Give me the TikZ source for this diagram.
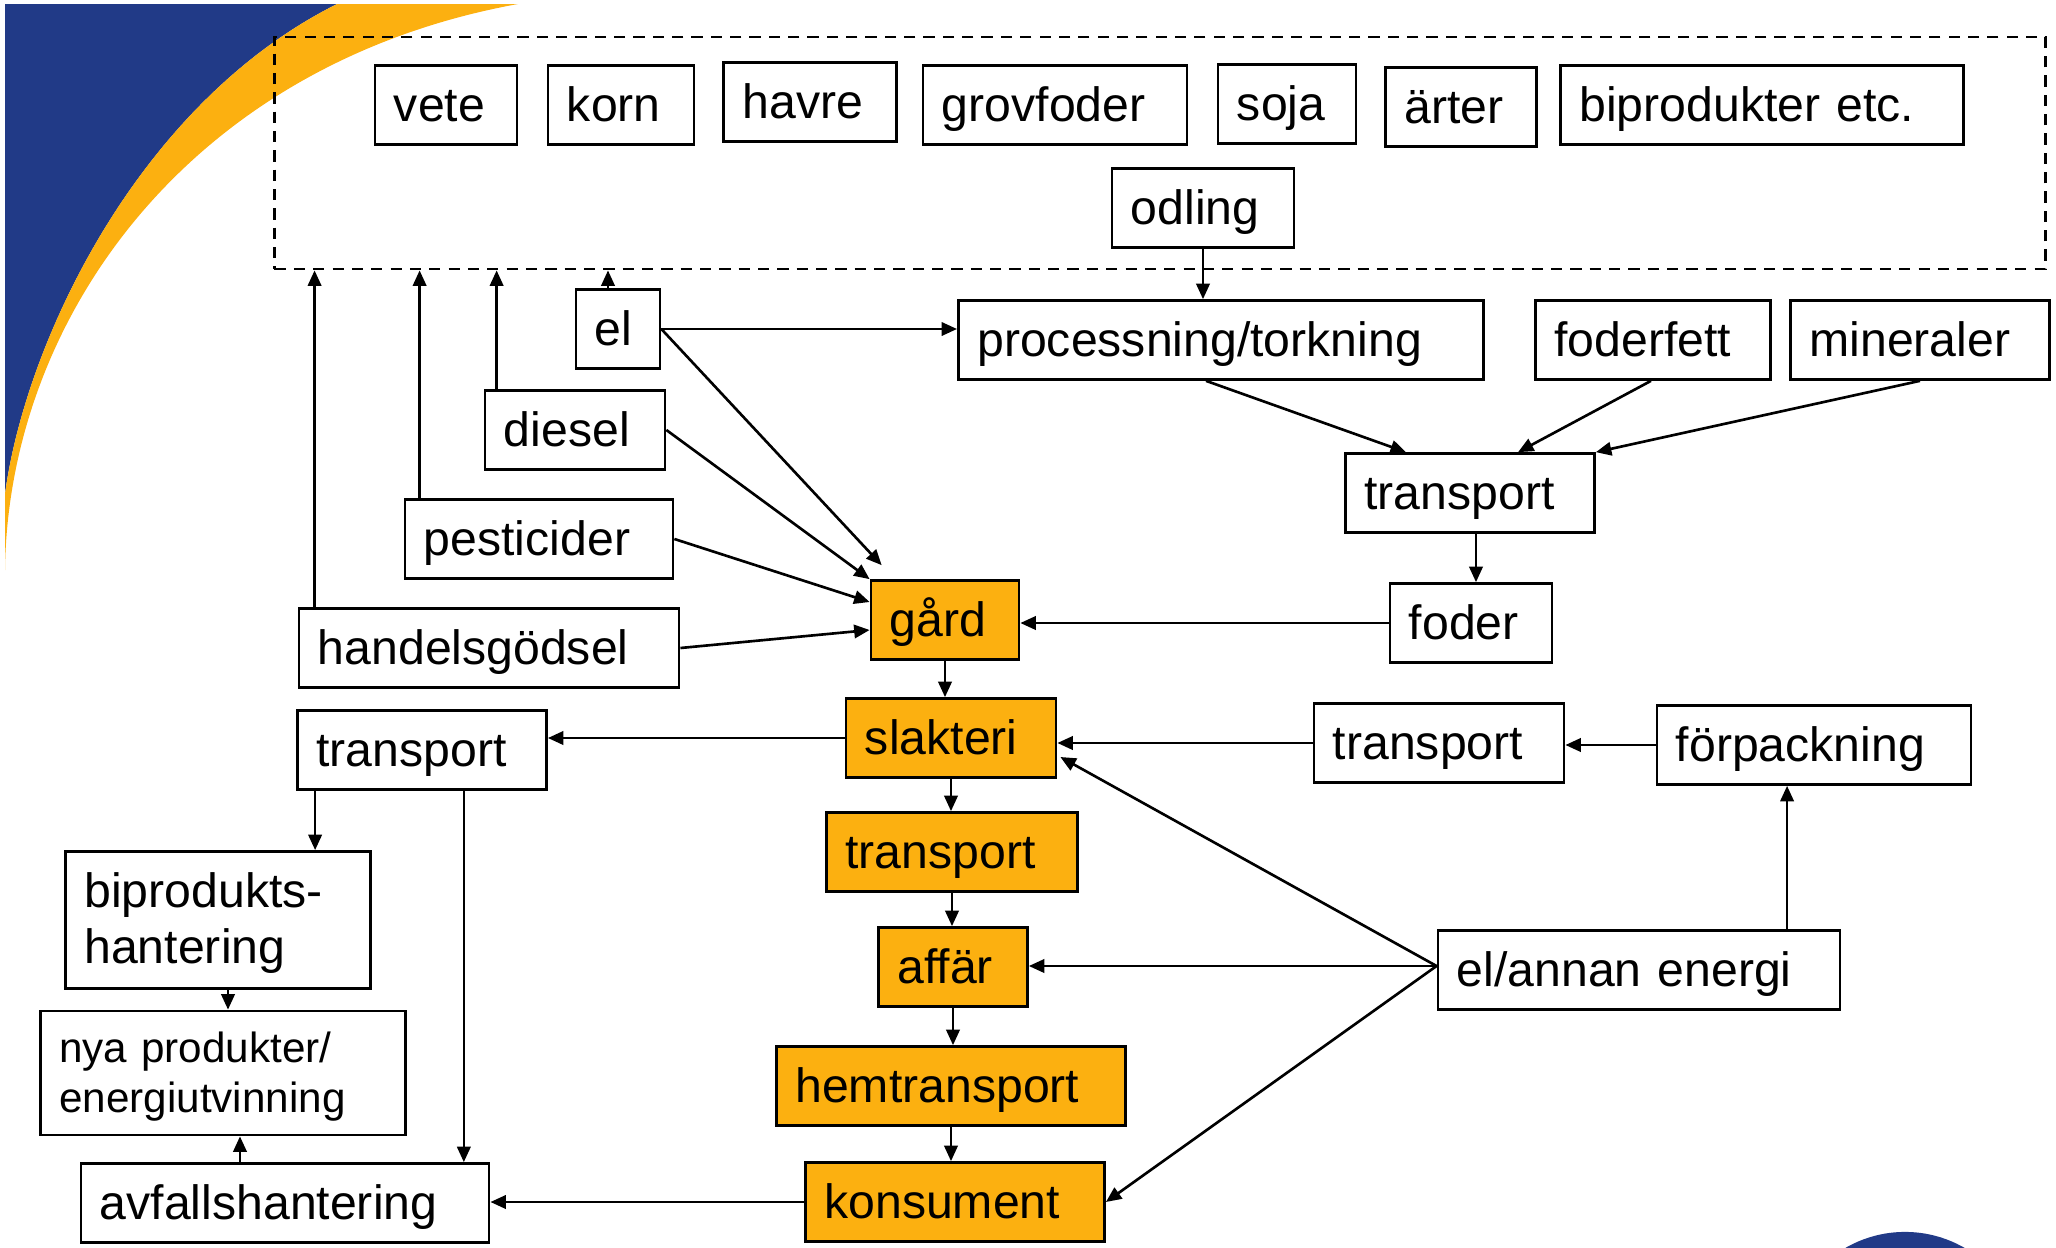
\documentclass[tikz,border=0pt]{standalone}
\usepackage{fontspec}
\setmainfont{Liberation Sans}
\usetikzlibrary{arrows.meta,calc}
\definecolor{tblue}{RGB}{33,58,135}
\definecolor{torange}{RGB}{252,176,16}
\begin{document}
\begin{tikzpicture}[x=0.01cm,y=-0.01cm,
  bx/.style={draw, line width=0.75pt, inner xsep=0.19cm, inner ysep=0pt, minimum height=0.79cm, align=left, text height=11.1pt, text depth=1.9pt, font=\fontsize{13.7}{16}\selectfont},
  bxtwo/.style={draw, line width=0.75pt, inner xsep=0.19cm, inner ysep=0pt, align=left, font=\fontsize{13.7}{16}\selectfont},
  obx/.style={bx, fill=torange},
  arr/.style={line width=0.75pt, -{Triangle[length=4.4pt,width=3.8pt]}},
]
\useasboundingbox (0,0) rectangle (2056,1248);
% background decoration
\fill[tblue] (5,4) -- (337,4) .. controls (137,104) and (25,344) .. (5,494) -- cycle;
\fill[torange] (337,4) -- (518,4) .. controls (188,64) and (8,320) .. (5,570) -- (5,494) .. controls (25,344) and (137,104) .. (337,4) -- cycle;
\begin{scope}
\clip (0,0) rectangle (2056,1248);
\fill[tblue] (1905,1351) circle [radius=1.19cm];
\end{scope}
% group box
\node[draw, dashed, dash pattern=on 3.2pt off 2.3pt, line width=0.75pt, minimum width=17.70cm, minimum height=2.32cm, inner sep=0pt] (grp) at (1160,153) {};
% nodes
\node[bx,text width=1.04cm] (vete) at (446,105) {vete};
\node[bx,text width=1.08cm] (korn) at (621,105) {korn};
\node[bx,text width=1.35cm] (havre) at (810,102) {havre};
\node[bx,text width=2.26cm] (grov) at (1055,105) {grovfoder};
\node[bx,text width=1.00cm] (soja) at (1287,104) {soja};
\node[bx,text width=1.13cm] (arter) at (1461,107) {ärter};
\node[bx,text width=3.65cm] (bip) at (1762,105) {biprodukter etc.};
\node[bx,text width=1.44cm] (odling) at (1203,208) {odling};
\node[bx,text width=0.46cm] (el) at (618,329) {el};
\node[bx,text width=4.87cm] (proc) at (1221,340) {processning/torkning};
\node[bx,text width=1.97cm] (ff) at (1653,340) {foderfett};
\node[bx,text width=2.21cm] (min) at (1920,340) {mineraler};
\node[bx,text width=1.42cm] (diesel) at (575,430) {diesel};
\node[bx,text width=2.11cm] (tf) at (1470,493) {transport};
\node[bx,text width=2.30cm] (pest) at (539,539) {pesticider};
\node[obx,text width=1.10cm] (gard) at (945,620) {gård};
\node[bx,text width=1.24cm] (foder) at (1471,623) {foder};
\node[bx,text width=3.42cm] (hg) at (489,648) {handelsgödsel};
\node[bx,text width=2.11cm] (tl) at (422,750) {transport};
\node[obx,text width=1.72cm] (slak) at (951,738) {slakteri};
\node[bx,text width=2.12cm] (tr) at (1439,743) {transport};
\node[bx,text width=2.76cm] (forp) at (1814,745) {förpackning};
\node[obx,text width=2.13cm] (to) at (952,852) {transport};
\node[bxtwo,text width=2.67cm,minimum height=1.37cm,text height=10.85pt,text depth=17.85pt] (biph) at (218,920) {biprodukts-\\hantering};
\node[obx,text width=1.11cm] (affar) at (953,967) {affär};
\node[bx,text width=3.64cm] (ene) at (1639,970) {el/annan energi};
\node[bxtwo,text width=3.27cm,minimum height=1.24cm,text height=9.85pt,text depth=15.65pt,font=\fontsize{12}{14.2}\selectfont] (nya) at (223,1073) {nya produkter/\\energiutvinning};
\node[obx,text width=3.11cm] (hem) at (951,1086) {hemtransport};
\node[obx,text width=2.61cm] (kons) at (955,1202) {konsument};
\node[bx,text width=3.70cm] (avf) at (285,1203) {avfallshantering};
% helper coordinates
\coordinate (elT) at ([xshift=-0.1cm]el.north);
\coordinate (dT) at ([xshift=0.13cm]diesel.north west);
\coordinate (pT) at ([xshift=0.16cm]pest.north west);
\coordinate (hT) at ([xshift=0.17cm]hg.north west);
\coordinate (tfB) at ([xshift=0.06cm]tf.south);
\coordinate (eneT) at ([xshift=1.48cm]ene.north);
\coordinate (eneW) at ($(ene.west)+(0,-4)$);
\coordinate (tlA) at ([xshift=0.19cm]tl.south west);
\coordinate (tlB) at ([xshift=-0.84cm]tl.south east);
\coordinate (bB) at ([xshift=0.1cm]biph.south);
\coordinate (aT) at ([xshift=-0.45cm]avf.north);
% connectors
\draw[arr] (odling.south) -- (odling.south |- proc.north);
\draw[arr] (elT) -- (elT |- grp.south);
\draw[arr] (dT) -- (dT |- grp.south);
\draw[arr] (pT) -- (pT |- grp.south);
\draw[arr] (hT) -- (hT |- grp.south);
\draw[arr] (el.east) -- (el.east -| proc.west);
\draw[arr] (el.east) -- ($(gard.north west)+(12,-14)$);
\draw[arr] (diesel.east) -- (gard.north west);
\draw[arr] (pest.east) -- ($(gard.west)+(0,-18)$);
\draw[arr] (hg.east) -- ($(gard.west)+(0,10)$);
\draw[arr] (foder.west) -- (foder.west -| gard.east);
\draw[arr] ([xshift=-0.15cm]proc.south) -- ([xshift=-0.64cm]tf.north);
\draw[arr] ([xshift=-0.02cm]ff.south) -- ([xshift=0.48cm]tf.north);
\draw[arr] (min.south) -- (tf.north east);
\draw[arr] (tfB) -- (tfB |- foder.north);
\draw[arr] (gard.south) -- (gard.south |- slak.north);
\draw[arr] (slak.west) -- (slak.west -| tl.east);
\draw[arr] (tr.west) -- (tr.west -| slak.east);
\draw[arr] (forp.west) -- (forp.west -| tr.east);
\draw[arr] (eneT) -- (eneT |- forp.south);
\draw[arr] (eneW) -- ($(slak.east)+(3,19)$);
\draw[arr] (eneW) -- (eneW -| affar.east);
\draw[arr] (eneW) -- (kons.east);
\draw[arr] (slak.south) -- (slak.south |- to.north);
\draw[arr] (to.south) -- (to.south |- affar.north);
\draw[arr] (affar.south) -- (affar.south |- hem.north);
\draw[arr] (hem.south) -- (hem.south |- kons.north);
\draw[arr] (kons.west) -- (kons.west -| avf.east);
\draw[arr] (tlA) -- (tlA |- biph.north);
\draw[arr] (tlB) -- (tlB |- avf.north);
\draw[arr] (bB) -- (bB |- nya.north);
\draw[arr] (aT) -- (aT |- nya.south);
\end{tikzpicture}
\end{document}
